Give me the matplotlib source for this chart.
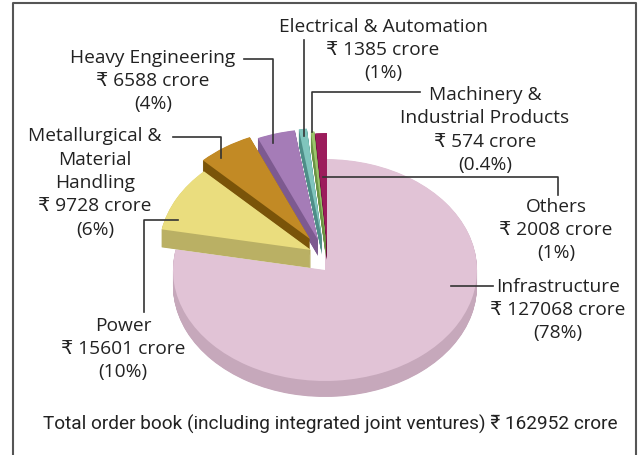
import matplotlib
matplotlib.use('Agg')
import numpy as np
from matplotlib import pyplot as plt
from matplotlib.patches import Wedge
from matplotlib.transforms import Affine2D

plt.rcParams['font.family'] = ['Open Sans', 'DejaVu Sans']

# slices, counter-clockwise starting at 12 o'clock
names = ['Others', 'Machinery &\nIndustrial Products', 'Electrical & Automation',
         'Heavy Engineering', 'Metallurgical &\nMaterial\nHandling', 'Power',
         'Infrastructure']
crore = [2008, 574, 1385, 6588, 9728, 15601, 127068]
pct_labels = ['1%', '0.4%', '1%', '4%', '6%', '10%', '78%']
total = 162952

top_colors = ['#9c1c5c', '#9cc46c', '#80c5bd', '#a57cb7', '#c28a25', '#eadd7e', '#e1c3d6']
side_colors = ['#6c0e3e', '#6a9444', '#4e8e88', '#7d5a90', '#7a5409', '#bab064', '#c6a8bb']

# screen offsets of the pulled-out slices (px, y down) and their thickness
offsets = [(2, -26), (1, -28), (-3, -31), (-7, -30), (-15, -31), (-14, -20), (0, 0)]
depths = [16, 16, 16, 16, 16, 18, 16]

cx, cy = 325, 270
rx, squash = 152, 0.73


def main():
    fig = plt.figure(figsize=(6.43, 4.55), dpi=100)
    ax = fig.add_axes([0, 0, 1, 1])
    ax.set_xlim(0, 643)
    ax.set_ylim(455, 0)
    ax.axis('off')

    vals = np.array(crore, dtype=float)
    angles = 90 + np.concatenate([[0], np.cumsum(vals / vals.sum() * 360)])

    # Infrastructure first, then the exploded ones from the top going left
    order = [6, 0, 1, 2, 3, 4, 5]
    for i in order:
        ox, oy = offsets[i]
        t1, t2 = angles[i], angles[i + 1]
        for k in np.arange(depths[i], 0, -0.5):
            tr = Affine2D().scale(1, -squash).translate(cx + ox, cy + oy + k) + ax.transData
            ax.add_patch(Wedge((0, 0), rx, t1, t2, fc=side_colors[i], ec='none',
                               transform=tr))
        tr = Affine2D().scale(1, -squash).translate(cx + ox, cy + oy) + ax.transData
        ax.add_patch(Wedge((0, 0), rx, t1, t2, fc=top_colors[i], ec='none', transform=tr))

    txt = dict(fontsize=13.8, color='#222222', ha='center', va='center', linespacing=1.39)

    def label(i, x, y):
        s = f'{names[i]}\n\u20b9 {crore[i]} crore\n({pct_labels[i]})'
        ax.text(x, y, s, **txt)

    label(2, 383, 50)
    label(3, 153, 81)
    label(4, 95, 183)
    label(5, 123, 349)
    label(1, 485, 130)
    label(0, 556, 230)
    label(6, 558, 310)

    lc = dict(color='#333333', lw=1.2)
    ax.plot([244, 273, 273], [59, 59, 143], **lc)      # heavy
    ax.plot([173, 221, 221], [137, 137, 158], **lc)    # metallurgical
    ax.plot([304, 304], [40, 136], **lc)               # electrical
    ax.plot([420, 312, 312], [92, 92, 132], **lc)      # machinery
    ax.plot([323, 558, 558], [177, 177, 195], **lc)    # others
    ax.plot([451, 493], [286, 286], **lc)              # infrastructure
    ax.plot([178, 144, 144], [220, 220, 312], **lc)    # power

    ax.text(330, 424, f'Total order book (including integrated joint ventures) \u20b9 {total} crore',
            fontsize=13.7, color='#222222', ha='center', va='center',
            family=['Roboto', 'DejaVu Sans'])

    ax.plot([13, 13, 636, 636], [460, 3, 3, 460], color='#555555', lw=1.5)

    fig.savefig('out.png', dpi=100)


if __name__ == "__main__":
    main()
